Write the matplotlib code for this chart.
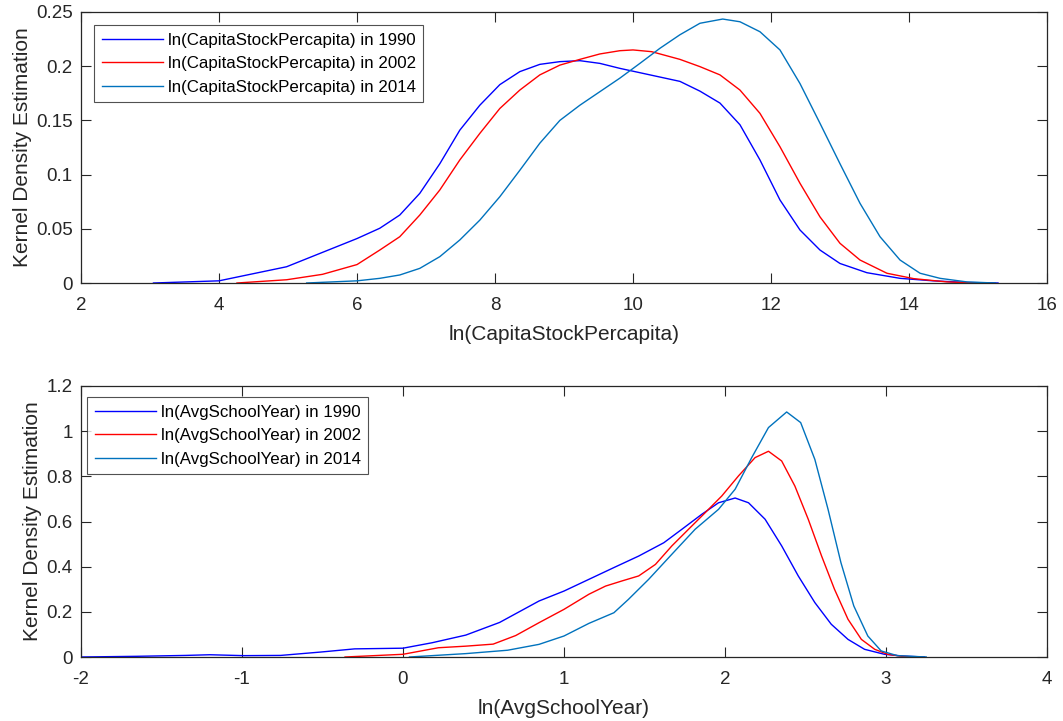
import matplotlib
matplotlib.use("Agg")
import matplotlib.pyplot as plt

plt.rcParams['font.family'] = ['Liberation Sans', 'DejaVu Sans']

# ---- Top panel: ln(CapitaStockPercapita) ----
cap_x_1990 = [3.05, 4.0, 4.98, 6.0, 6.33, 6.62, 6.91, 7.20, 7.49, 7.78, 8.07, 8.36, 8.65, 8.94, 9.23, 9.52, 9.81,
              10.1, 10.39, 10.68, 10.97, 11.26, 11.55, 11.84, 12.13, 12.42, 12.71, 13.0, 13.39, 13.87, 14.35, 14.84, 15.29]
cap_y_1990 = [0.0, 0.002, 0.015, 0.041, 0.0505, 0.0627, 0.0827, 0.110, 0.141, 0.164, 0.183, 0.195, 0.2017, 0.2042, 0.2051, 0.2026, 0.198,
              0.194, 0.190, 0.186, 0.177, 0.166, 0.146, 0.1135, 0.0766, 0.0489, 0.0304, 0.018, 0.0095, 0.0043, 0.002, 0.0005, 0.0]

cap_x_2002 = [4.26, 4.98, 5.5, 6.0, 6.33, 6.62, 6.91, 7.20, 7.49, 7.78, 8.07, 8.36, 8.65, 8.94, 9.23, 9.52, 9.81, 10.0,
              10.27, 10.68, 10.97, 11.26, 11.55, 11.84, 12.13, 12.42, 12.71, 13.0, 13.29, 13.68, 14.07, 14.55, 14.99]
cap_y_2002 = [0.0, 0.003, 0.008, 0.017, 0.0304, 0.0427, 0.0627, 0.0858, 0.1135, 0.138, 0.161, 0.178, 0.192, 0.201, 0.2063, 0.2113, 0.2143, 0.215,
              0.2134, 0.2063, 0.1996, 0.192, 0.178, 0.1565, 0.1257, 0.092, 0.061, 0.0366, 0.0212, 0.009, 0.004, 0.001, 0.0]

cap_x_2014 = [5.27, 6.0, 6.33, 6.62, 6.91, 7.20, 7.49, 7.78, 8.07, 8.36, 8.65, 8.94, 9.23, 9.52, 9.81, 10.1, 10.39, 10.68, 10.97,
              11.30, 11.55, 11.84, 12.13, 12.42, 12.71, 13.0, 13.29, 13.58, 13.87, 14.16, 14.45, 14.84, 15.25]
cap_y_2014 = [0.0, 0.002, 0.0043, 0.0074, 0.0135, 0.0243, 0.0397, 0.058, 0.0796, 0.104, 0.129, 0.150, 0.164, 0.1765, 0.189, 0.2026, 0.2165, 0.229, 0.2396,
              0.2435, 0.241, 0.2318, 0.215, 0.184, 0.1473, 0.110, 0.0735, 0.0427, 0.0212, 0.009, 0.0043, 0.001, 0.0]

# ---- Bottom panel: ln(AvgSchoolYear) ----
sch_x_1990 = [-2.0, -1.66, -1.35, -1.2, -0.99, -0.76, -0.51, -0.30, 0.0, 0.18, 0.39, 0.60, 0.845, 1.0, 1.155, 1.31, 1.464, 1.62, 1.733,
              1.856, 1.96, 2.063, 2.146, 2.249, 2.352, 2.455, 2.558, 2.66, 2.764, 2.867, 2.99, 3.11, 3.24]
sch_y_1990 = [0.0, 0.003, 0.007, 0.010, 0.006, 0.007, 0.022, 0.036, 0.039, 0.063, 0.097, 0.153, 0.248, 0.292, 0.344, 0.396, 0.447, 0.506, 0.566,
              0.632, 0.683, 0.704, 0.683, 0.610, 0.492, 0.359, 0.241, 0.145, 0.078, 0.034, 0.012, 0.004, 0.0]

sch_x_2002 = [-0.36, 0.0, 0.22, 0.39, 0.56, 0.70, 0.845, 1.0, 1.155, 1.258, 1.361, 1.464, 1.568, 1.67, 1.774, 1.877, 1.98, 2.084, 2.187,
              2.27, 2.352, 2.434, 2.517, 2.6, 2.68, 2.764, 2.847, 2.93, 3.01, 3.1, 3.18]
sch_y_2002 = [0.0, 0.012, 0.041, 0.048, 0.057, 0.095, 0.152, 0.211, 0.278, 0.314, 0.337, 0.359, 0.410, 0.492, 0.566, 0.639, 0.713, 0.802, 0.883,
              0.911, 0.868, 0.757, 0.610, 0.447, 0.300, 0.167, 0.078, 0.034, 0.012, 0.003, 0.0]

sch_x_2014 = [0.04, 0.39, 0.65, 0.845, 1.0, 1.155, 1.31, 1.40, 1.526, 1.67, 1.815, 1.96, 2.063, 2.166, 2.27, 2.383, 2.47, 2.558,
              2.64, 2.72, 2.80, 2.887, 2.97, 3.07, 3.25]
sch_y_2014 = [0.0, 0.015, 0.030, 0.056, 0.093, 0.149, 0.196, 0.255, 0.344, 0.455, 0.566, 0.654, 0.743, 0.883, 1.016, 1.085, 1.038, 0.875,
              0.654, 0.418, 0.226, 0.093, 0.027, 0.006, 0.0]

years = ['1990', '2002', '2014']
colors = ['#0000FF', '#FF0000', '#0072BD']

top_xticks = [2, 4, 6, 8, 10, 12, 14, 16]
top_yticks = [0, 0.05, 0.1, 0.15, 0.2, 0.25]
bot_xticks = [-2, -1, 0, 1, 2, 3, 4]
bot_yticks = [0, 0.2, 0.4, 0.6, 0.8, 1, 1.2]

W, H = 1063, 721
fig = plt.figure(figsize=(W / 100, H / 100), dpi=100)
INK = '#262626'


def fmt(v):
    return '%g' % v


def style(ax, xticks, yticks, xlabel):
    ax.set_xticks(xticks)
    ax.set_yticks(yticks)
    ax.set_xticklabels([fmt(v) for v in xticks])
    ax.set_yticklabels([fmt(v) for v in yticks])
    ax.set_xlim(xticks[0], xticks[-1])
    ax.set_ylim(yticks[0], yticks[-1])
    ax.tick_params(direction='in', length=7, width=0.8, colors=INK,
                   labelsize=13.5, top=True, right=True)
    ax.tick_params(axis='x', pad=10)
    ax.tick_params(axis='y', pad=6)
    for s in ax.spines.values():
        s.set_color(INK)
        s.set_linewidth(0.9)
    ax.set_xlabel(xlabel, fontsize=15, color=INK, labelpad=8)
    ax.set_ylabel('Kernel Density Estimation', fontsize=15, color=INK, labelpad=3)


def add_legend(ax, dx_px, dy_px, ax_w, ax_h):
    leg = ax.legend(loc='upper left', bbox_to_anchor=(dx_px / ax_w, 1 - dy_px / ax_h),
                    borderaxespad=0.0, fontsize=12.2, frameon=True, fancybox=False,
                    edgecolor=INK, handlelength=3.6, handletextpad=0.3,
                    labelspacing=0.5, borderpad=0.45)
    leg.get_frame().set_linewidth(0.8)
    return leg


AX_W, AX_H = 966, 271

ax1 = fig.add_axes([81 / W, 1 - 283 / H, AX_W / W, AX_H / H])
for x, y, c, yr in zip([cap_x_1990, cap_x_2002, cap_x_2014],
                       [cap_y_1990, cap_y_2002, cap_y_2014], colors, years):
    ax1.plot(x, y, color=c, lw=1.0, label='ln(CapitaStockPercapita) in ' + yr)
style(ax1, top_xticks, top_yticks, 'ln(CapitaStockPercapita)')
add_legend(ax1, 13, 13, AX_W, AX_H)

ax2 = fig.add_axes([81 / W, 1 - 657 / H, AX_W / W, AX_H / H])
for x, y, c, yr in zip([sch_x_1990, sch_x_2002, sch_x_2014],
                       [sch_y_1990, sch_y_2002, sch_y_2014], colors, years):
    ax2.plot(x, y, color=c, lw=1.0, label='ln(AvgSchoolYear) in ' + yr)
style(ax2, bot_xticks, bot_yticks, 'ln(AvgSchoolYear)')
add_legend(ax2, 6, 11, AX_W, AX_H)

fig.savefig('out.png', dpi=100)
